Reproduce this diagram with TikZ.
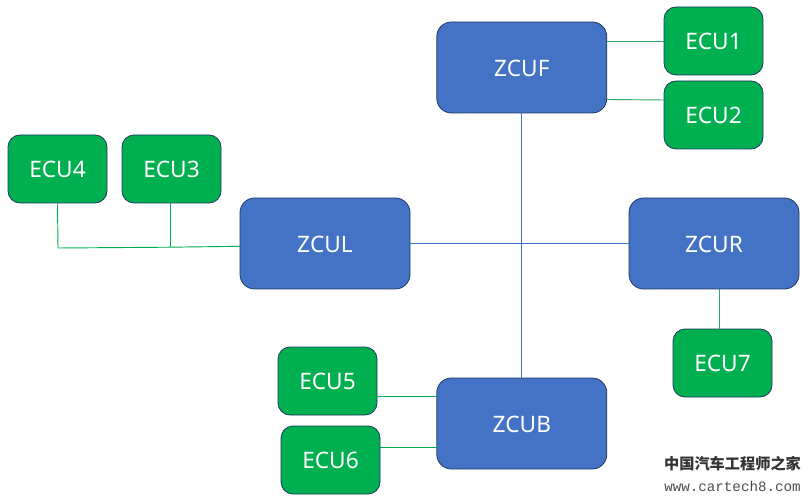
\documentclass[tikz,border=0pt]{standalone}
\usepackage{fontspec}
\setmainfont{Noto Sans}
\newfontfamily\cjk{Noto Sans CJK SC}
\newfontfamily\wmono{Liberation Mono}
\definecolor{zblue}{HTML}{4472C4}
\definecolor{egreen}{HTML}{00B050}
\definecolor{edge}{HTML}{203864}
\definecolor{bline}{HTML}{4472C4}
\definecolor{gline}{HTML}{2EA866}
\tikzset{
  x=0.75pt,y=-0.75pt,
  zcu/.style={draw=edge,line width=0.6pt,fill=zblue,rounded corners=11pt,minimum width=127.5pt,minimum height=68.25pt,text=white,inner sep=0pt,text height=12.9pt,text depth=0pt,font=\fontsize{17pt}{20pt}\selectfont},
  ecu/.style={draw=edge,line width=0.6pt,fill=egreen,rounded corners=9pt,minimum width=74.25pt,minimum height=51pt,text=white,inner sep=0pt,text height=12.9pt,text depth=0pt,font=\fontsize{17pt}{20pt}\selectfont},
  bluelink/.style={draw=bline,line width=0.7pt},
  greenlink/.style={draw=gline,line width=0.7pt},
  brightlink/.style={draw=egreen,line width=0.7pt}
}
\begin{document}
\begin{tikzpicture}
\useasboundingbox (0,0) rectangle (810,502);
\node[zcu] (ZCUF) at (521.8,67.5) {ZCUF};
\node[zcu] (ZCUL) at (325,243.5) {ZCUL};
\node[zcu] (ZCUR) at (714,243.5) {ZCUR};
\node[zcu] (ZCUB) at (521.8,423.5) {ZCUB};
\node[ecu] (ECU1) at (713.5,41) {ECU1};
\node[ecu] (ECU2) at (713.5,115) {ECU2};
\node[ecu] (ECU4) at (57.5,169) {ECU4};
\node[ecu] (ECU3) at (171.5,169) {ECU3};
\node[ecu] (ECU5) at (327.5,381) {ECU5};
\node[ecu] (ECU6) at (330.5,460) {ECU6};
\node[ecu] (ECU7) at (722.5,363) {ECU7};
\coordinate (J4) at (58,248);
\coordinate (J3) at (170,247.2);
\coordinate (F1) at (607,41.5);
\coordinate (E1) at (664,41.5);
\coordinate (F2) at (607,99.5);
\coordinate (E2) at (664,100);
\coordinate (L1) at (240,246.3);
\coordinate (E5) at (377,396);
\coordinate (B5) at (437,396);
\coordinate (E6) at (380,447);
\coordinate (B6) at (437,447);
\coordinate (R7) at (719,289);
\coordinate (E7) at (719,329);
\draw[bluelink] (ZCUF.south) -- (ZCUB.north);
\draw[bluelink] (ZCUL.east) -- (ZCUR.west);
\draw[greenlink] (F1) -- (E1);
\draw[greenlink] (F2) -- (E2);
\draw[brightlink] (ECU4.south) -- (J4) -- (J3) -- (L1);
\draw[brightlink] (ECU3.south -| J3) -- (J3);
\draw[brightlink] (E5) -- (B5);
\draw[brightlink] (E6) -- (B6);
\draw[greenlink] (R7) -- (E7);
\node[font=\cjk\bfseries\fontsize{11.4pt}{14pt}\selectfont,text=black!80,inner sep=0pt] (wm1) at (732.5,464) {中国汽车工程师之家};
\node[font=\wmono\fontsize{10.65pt}{13pt}\selectfont,text=black!70,inner sep=0pt] (wm2) at (732.5,486) {www.cartech8.com};
\end{tikzpicture}
\end{document}
